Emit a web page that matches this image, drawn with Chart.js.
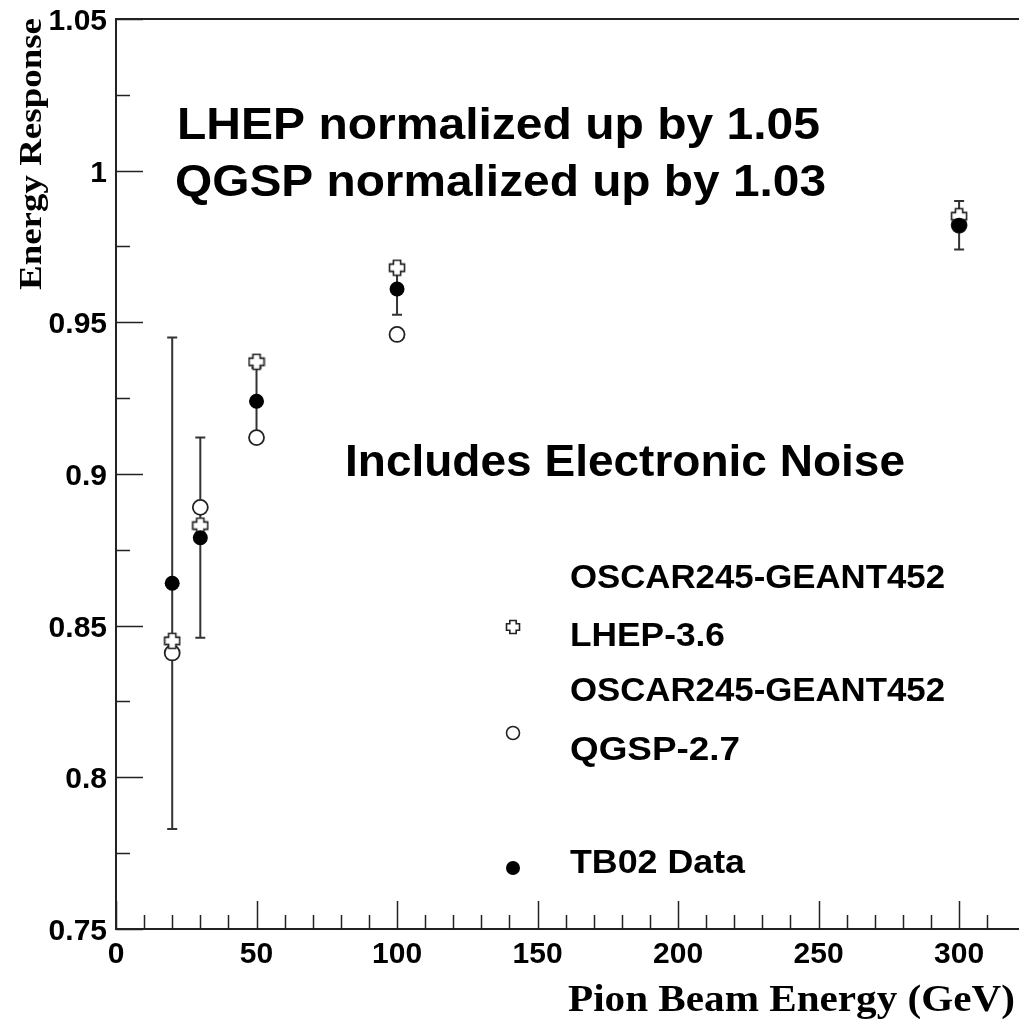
<!DOCTYPE html>
<html>
<head>
<meta charset="utf-8">
<script src="https://cdn.jsdelivr.net/npm/chart.js@4.4.1/dist/chart.umd.min.js"></script>
<style>
  html, body { margin: 0; padding: 0; background: #fff; overflow: hidden; }
  #wrap { width: 1019px; height: 1019px; }
</style>
</head>
<body>
<div id="wrap"><canvas id="chart" width="1019" height="1019"></canvas></div>
<script>
// beam energies (GeV) and responses
const energies = [20, 30, 50, 100, 300];
const tb02 = [0.864, 0.879, 0.924, 0.961, 0.982];
const tb02Low = [0.783, 0.846, 0.913, 0.9525, 0.974];
const tb02High = [0.945, 0.912, 0.935, 0.969, 0.990];
const lhep = [0.845, 0.883, 0.937, 0.968, 0.985];
const qgsp = [0.841, 0.889, 0.912, 0.946, 0.982];

const xTicks = [0, 50, 100, 150, 200, 250, 300];
const yTicks = [0.75, 0.8, 0.85, 0.9, 0.95, 1, 1.05];
const xMinorStep = 10;
const yMinorStep = 0.025;

const legendLines = ['OSCAR245-GEANT452', 'LHEP-3.6', 'OSCAR245-GEANT452', 'QGSP-2.7', 'TB02 Data'];
const notes = ['LHEP normalized up by 1.05', 'QGSP normalized up by 1.03', 'Includes Electronic Noise'];

const SANS = '"Liberation Sans", Arial, Helvetica, sans-serif';
const SERIF = '"Liberation Serif", "Times New Roman", serif';

const toPts = (ys) => energies.map((x, i) => ({ x, y: ys[i] }));

// open "plus" marker, like ROOT marker 28
function makeCross(size) {
  const c = document.createElement('canvas');
  c.width = size; c.height = size;
  const g = c.getContext('2d');
  const m = size / 2, a = size * 0.2, b = size / 2 - 1.5;
  g.beginPath();
  g.moveTo(m - a, m - b); g.lineTo(m + a, m - b); g.lineTo(m + a, m - a);
  g.lineTo(m + b, m - a); g.lineTo(m + b, m + a); g.lineTo(m + a, m + a);
  g.lineTo(m + a, m + b); g.lineTo(m - a, m + b); g.lineTo(m - a, m + a);
  g.lineTo(m - b, m + a); g.lineTo(m - b, m - a); g.lineTo(m - a, m - a);
  g.closePath();
  g.fillStyle = '#fff'; g.fill();
  g.lineWidth = 1.6; g.strokeStyle = '#222'; g.stroke();
  return c;
}
const crossImg = makeCross(18);
const crossSmall = makeCross(16);

function text(ctx, str, x, y, font, align = 'left', width = null) {
  ctx.save();
  ctx.font = font;
  ctx.textAlign = align;
  ctx.textBaseline = 'alphabetic';
  ctx.fillStyle = '#000';
  if (width) {
    const w = ctx.measureText(str).width;
    ctx.translate(x, y);
    ctx.scale(width / w, 1);
    ctx.fillText(str, 0, 0);
  } else {
    ctx.fillText(str, x, y);
  }
  ctx.restore();
}

const errorBars = {
  id: 'errorBars',
  beforeDatasetsDraw(chart) {
    const { ctx, scales: { x, y } } = chart;
    ctx.save();
    ctx.strokeStyle = '#333';
    ctx.lineWidth = 2;
    energies.forEach((e, i) => {
      const px = x.getPixelForValue(e);
      const lo = y.getPixelForValue(tb02Low[i]);
      const hi = y.getPixelForValue(tb02High[i]);
      ctx.beginPath();
      ctx.moveTo(px, lo); ctx.lineTo(px, hi);
      ctx.moveTo(px - 5, lo); ctx.lineTo(px + 5, lo);
      ctx.moveTo(px - 5, hi); ctx.lineTo(px + 5, hi);
      ctx.stroke();
    });
    ctx.restore();
  },
};

const frame = {
  id: 'frame',
  afterDraw(chart) {
    const { ctx, chartArea: a, scales: { x, y } } = chart;
    ctx.save();
    ctx.strokeStyle = '#222';
    ctx.lineWidth = 2;
    ctx.beginPath();
    ctx.moveTo(a.right + 10, a.top); ctx.lineTo(a.left, a.top);
    ctx.lineTo(a.left, a.bottom); ctx.lineTo(a.right + 10, a.bottom);
    ctx.stroke();

    // ticks point inward
    ctx.lineWidth = 1.5;
    ctx.beginPath();
    for (let v = x.min; v <= x.max; v += xMinorStep) {
      const px = Math.round(x.getPixelForValue(v)) + 0.5;
      const len = xTicks.includes(v) ? 28 : 14;
      ctx.moveTo(px, a.bottom); ctx.lineTo(px, a.bottom - len);
    }
    for (let v = y.min; v <= y.max + 1e-9; v += yMinorStep) {
      const py = Math.round(y.getPixelForValue(v)) + 0.5;
      const major = yTicks.some(t => Math.abs(t - v) < 1e-6);
      ctx.moveTo(a.left, py); ctx.lineTo(a.left + (major ? 27 : 14), py);
    }
    ctx.stroke();
    ctx.restore();

    const tickFont = `bold 30px ${SANS}`;
    xTicks.forEach(v => text(ctx, String(v), x.getPixelForValue(v), a.bottom + 34, tickFont, 'center'));
    yTicks.forEach(v => text(ctx, String(v), a.left - 9, y.getPixelForValue(v) + 11, tickFont, 'right'));

    // axis titles
    text(ctx, 'Pion Beam Energy (GeV)', 1015, 1011, `bold 38px ${SERIF}`, 'right', 447);
    ctx.save();
    ctx.translate(41, 18);
    ctx.rotate(-Math.PI / 2);
    text(ctx, 'Energy Response', 0, 0, `bold 32px ${SERIF}`, 'right', 272);
    ctx.restore();

    // notes
    const big = `bold 44px ${SANS}`;
    text(ctx, notes[0], 177, 139, big, 'left', 643);
    text(ctx, notes[1], 175, 196, big, 'left', 651);
    text(ctx, notes[2], 345, 476, big, 'left', 560);

    // legend
    const lf = `bold 34px ${SANS}`;
    const lx = 570;
    const widths = [375, 155, 375, 170, 175];
    [588, 646, 701, 760, 873].forEach((by, i) => text(ctx, legendLines[i], lx, by, lf, 'left', widths[i]));
    const mx = 513;
    ctx.drawImage(crossSmall, mx - 8, 627 - 8);
    ctx.save();
    ctx.beginPath(); ctx.arc(mx, 733, 6.5, 0, Math.PI * 2);
    ctx.fillStyle = '#fff'; ctx.fill();
    ctx.lineWidth = 1.6; ctx.strokeStyle = '#222'; ctx.stroke();
    ctx.beginPath(); ctx.arc(mx, 868, 7, 0, Math.PI * 2);
    ctx.fillStyle = '#000'; ctx.fill();
    ctx.restore();
  },
};

new Chart(document.getElementById('chart'), {
  type: 'scatter',
  data: {
    datasets: [
      { label: 'TB02 Data', data: toPts(tb02), order: 0,
        pointStyle: 'circle', pointRadius: 7.5, backgroundColor: '#000', borderColor: '#000', borderWidth: 0 },
      { label: 'LHEP-3.6', data: toPts(lhep), order: 1,
        pointStyle: crossImg },
      { label: 'QGSP-2.7', data: toPts(qgsp), order: 2,
        pointStyle: 'circle', pointRadius: 7.5, backgroundColor: '#fff', borderColor: '#222', borderWidth: 1.8 },
    ],
  },
  options: {
    responsive: false,
    animation: false,
    devicePixelRatio: 1,
    layout: { padding: { left: 116, top: 19, right: 0, bottom: 90 } },
    scales: {
      x: { type: 'linear', min: 0, max: 318, display: false },
      y: { type: 'linear', min: 0.75, max: 1.05, display: false },
    },
    plugins: { legend: { display: false }, tooltip: { enabled: false } },
    elements: { point: { hoverRadius: 7.5 } },
    clip: false,
  },
  plugins: [errorBars, frame],
});
</script>
</body>
</html>
